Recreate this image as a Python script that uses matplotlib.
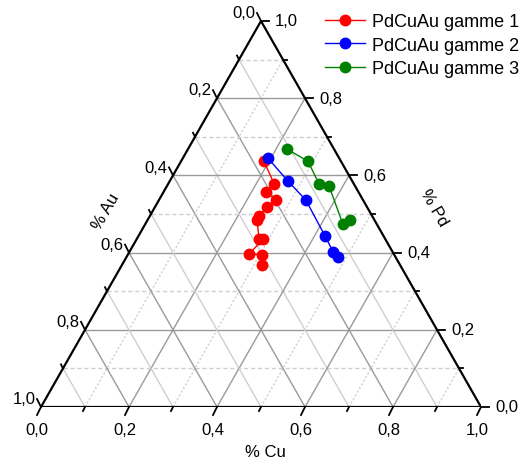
# coding: utf-8

import numpy as np
import matplotlib
matplotlib.use("Agg")
import matplotlib.pyplot as plt

plt.rcParams['font.family'] = ['Liberation Sans', 'DejaVu Sans']

## data (fractions Cu, Pd ; Au = 1 - Cu - Pd)
cu_g1 = [0.188, 0.241, 0.233, 0.266, 0.255, 0.248, 0.249, 0.278, 0.287, 0.275, 0.305, 0.318]
pd_g1 = [0.637, 0.578, 0.557, 0.536, 0.518, 0.495, 0.484, 0.435, 0.435, 0.396, 0.394, 0.368]

cu_g2 = [0.193, 0.269, 0.334, 0.424, 0.463, 0.481]
pd_g2 = [0.645, 0.585, 0.536, 0.443, 0.402, 0.389]

cu_g3 = [0.225, 0.288, 0.343, 0.368, 0.449, 0.460]
pd_g3 = [0.668, 0.637, 0.578, 0.573, 0.474, 0.484]

labels = ["PdCuAu gamme 1", "PdCuAu gamme 2", "PdCuAu gamme 3"]
colors = ['#ff0000', '#0000ff', '#008000']
ticks = [0.0, 0.2, 0.4, 0.6, 0.8, 1.0]
tick_labels = ['0,0', '0,2', '0,4', '0,6', '0,8', '1,0']


def tern(cu, pd):
    cu = np.asarray(cu, dtype=float)
    pd = np.asarray(pd, dtype=float)
    return cu + 0.5 * pd, pd


fig = plt.figure(figsize=(5.32, 4.64), dpi=100)
ax = fig.add_axes([41/532, (464-408)/464, 440/532, 386/464])
ax.set_xlim(0, 1)
ax.set_ylim(0, 1)
ax.axis('off')

major_c = '#9a9a9a'
minor_c = '#cfcfcf'

## grid
for k in range(1, 10):
    v = k / 10.0
    major = (k % 2 == 0)
    c = major_c if major else minor_c
    # Pd = v (horizontal)
    x0, y0 = tern(0, v); x1, y1 = tern(1 - v, v)
    ax.plot([x0, x1], [y0, y1], color=c, lw=1.0, ls='-' if major else (0, (3, 2)), zorder=1)
    # Cu = v
    x0, y0 = tern(v, 0); x1, y1 = tern(v, 1 - v)
    ax.plot([x0, x1], [y0, y1], color=c, lw=1.0, ls='-' if major else (0, (1.5, 1.5)), zorder=1)
    # Au = v
    x0, y0 = tern(0, 1 - v); x1, y1 = tern(1 - v, 0)
    ax.plot([x0, x1], [y0, y1], color=c, lw=1.0, ls='-', zorder=1)

## frame
fx, fy = tern([0, 1, 0, 0], [0, 0, 1, 0])
ax.plot(fx, fy, color='k', lw=1.6, zorder=3, solid_joinstyle='miter')

## ticks
tmaj = 8 / 440.0
for k in range(0, 11):
    v = k / 10.0
    t = tmaj if k % 2 == 0 else tmaj * 0.5
    # bottom (Cu)
    x0, y0 = tern(v, 0)
    ax.plot([x0, x0 - 0.5 * t], [y0, y0 - t * 440 / 386], color='k', lw=1.3, clip_on=False, zorder=3)
    # left (Au)
    x0, y0 = tern(0, 1 - v)
    ax.plot([x0, x0 - 0.5 * t], [y0, y0 + t * 440 / 386], color='k', lw=1.3, clip_on=False, zorder=3)
    # right (Pd)
    x0, y0 = tern(1 - v, v)
    ax.plot([x0, x0 + t], [y0, y0], color='k', lw=1.3, clip_on=False, zorder=3)

fs = 12
for v, lab in zip(ticks, tick_labels):
    x0, y0 = tern(v, 0)
    ax.annotate(lab, (x0, y0), xytext=(-3, -11), textcoords='offset points',
                ha='center', va='top', fontsize=fs)
    x0, y0 = tern(0, 1 - v)
    ax.annotate(lab, (x0, y0), xytext=(-4, 6), textcoords='offset points',
                ha='right', va='center', fontsize=fs)
    x0, y0 = tern(1 - v, v)
    ax.annotate(lab, (x0, y0), xytext=(10, 0), textcoords='offset points',
                ha='left', va='center', fontsize=fs)

ax.text(0.509, -0.114, '% Cu', ha='center', va='center', fontsize=fs, transform=ax.transAxes)
ax.text(0.148, 0.508, '% Au', ha='center', va='center', fontsize=fs, rotation=60, transform=ax.transAxes)
ax.text(0.893, 0.518, '% Pd', ha='center', va='center', fontsize=fs, rotation=-60, transform=ax.transAxes)

## data
for cu, pd, c, lab in zip([cu_g1, cu_g2, cu_g3], [pd_g1, pd_g2, pd_g3], colors, labels):
    x, y = tern(cu, pd)
    ax.plot(x, y, color=c, lw=1.0, marker='o', ms=7.5, mec=c, mfc=c,
            label=lab, zorder=4, clip_on=False)

ax.legend(loc='upper left', bbox_to_anchor=(318/532, 1 - 7/464), bbox_transform=fig.transFigure,
          frameon=False, fontsize=13, handlelength=2.2, handletextpad=0.4,
          labelspacing=0.36, borderaxespad=0, borderpad=0.4)

fig.savefig('out.png', dpi=100)
